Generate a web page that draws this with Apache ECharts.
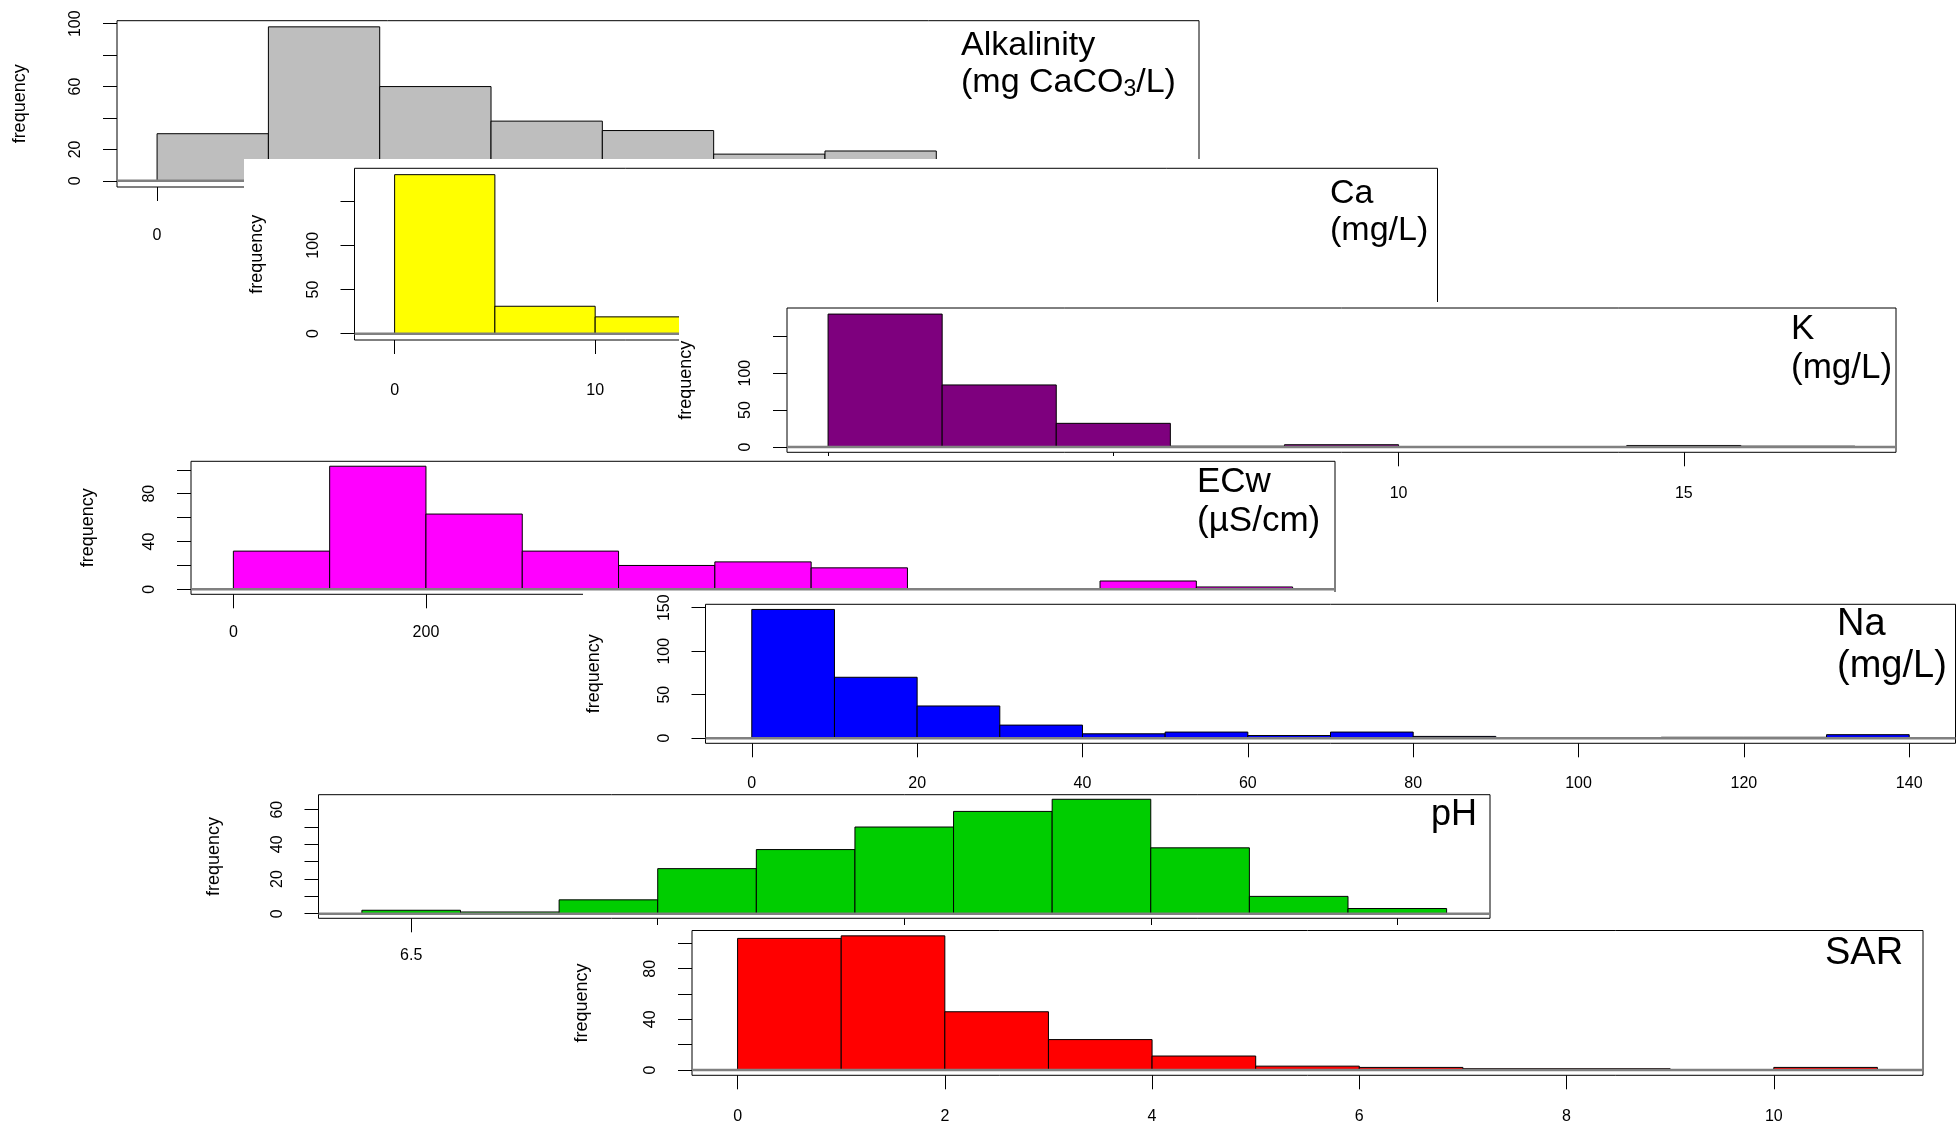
<!DOCTYPE html>
<html><head><meta charset="utf-8">
<script src="https://cdn.jsdelivr.net/npm/echarts@6/dist/echarts.min.js"></script>
<style>html,body{margin:0;padding:0;background:#fff}#c{width:1960px;height:1126px}</style>
</head><body><div id="c"></div>
<script>
// ---------------- data ----------------
const alkBreaks = [0,50,100,150,200,250,300,350,400,450];
const alkCounts = [30,98,60,38,32,17,19,4,2];
const alkXLim = [0,450], alkYLim = [0,98];
const alkXTicks = [0,100,200,300,400];
const alkYTicks = [0,20,40,60,80,100];
const alkYLabels = [0,20,60,100];

const caBreaks = [0,5,10,15,20,25,30,35,40,45,50];
const caCounts = [180,31,19,25,18,12,7,4,2,2];
const caXLim = [0,50], caYLim = [0,180];
const caXTicks = [0,10,20,30,40,50];
const caYTicks = [0,50,100,150];
const caYLabels = [0,50,100];

const kBreaks = [0,2,4,6,8,10,12,14,16,18];
const kCounts = [180,84,32,1,3,0,0,2,1];
const kXLim = [0,18], kYLim = [0,181];
const kXTicks = [0,5,10,15];
const kYTicks = [0,50,100,150];
const kYLabels = [0,50,100];

const ecwBreaks = [0,100,200,300,400,500,600,700,800,900,1000,1100];
const ecwCounts = [32,103,63,32,20,23,18,0,0,7,2];
const ecwXLim = [0,1100], ecwYLim = [0,103];
const ecwXTicks = [0,200,400,600,800,1000];
const ecwYTicks = [0,20,40,60,80,100];
const ecwYLabels = [0,40,80];

const naBreaks = [0,10,20,30,40,50,60,70,80,90,100,110,120,130,140];
const naCounts = [148,70,37,15,5,7,3,7,2,0,0,1,1,4];
const naXLim = [0,140], naYLim = [0,148];
const naXTicks = [0,20,40,60,80,100,120,140];
const naYTicks = [0,50,100,150];
const naYLabels = [0,50,100,150];

const phBreaks = [6.4,6.6,6.8,7.0,7.2,7.4,7.6,7.8,8.0,8.2,8.4,8.6];
const phCounts = [2,1,8,26,37,50,59,66,38,10,3];
const phXLim = [6.4,8.6], phYLim = [0,66];
const phXTicks = [6.5,7.0,7.5,8.0,8.5];
const phYTicks = [0,10,20,30,40,50,60];
const phYLabels = [0,20,40,60];

const sarBreaks = [0,1,2,3,4,5,6,7,8,9,10,11];
const sarCounts = [104,106,46,24,11,3,2,1,1,0,2];
const sarXLim = [0,11], sarYLim = [0,106];
const sarXTicks = [0,2,4,6,8,10];
const sarYTicks = [0,20,40,60,80,100];
const sarYLabels = [0,40,80];

// ---------------- layout ----------------
const FONT = '"Liberation Sans", Arial, sans-serif';
const panels = [
  {br:alkBreaks, ct:alkCounts, xl:alkXLim, yl:alkYLim, xt:alkXTicks, yt:alkYTicks, ylab:alkYLabels,
   color:'#BEBEBE', box:[117,20.7,1199,187], white:null, xm:41, fo:97,
   title:'Alkalinity\n(mg CaCO{sub|3}/L)', tpos:[961,27], tsize:34, dec:0},
  {br:caBreaks, ct:caCounts, xl:caXLim, yl:caYLim, xt:caXTicks, yt:caYTicks, ylab:caYLabels,
   color:'#FFFF00', box:[354.5,168.3,1437.5,340], white:[244,159], xm:43, fo:97,
   title:'Ca\n(mg/L)', tpos:[1330,175], tsize:34, dec:0},
  {br:kBreaks, ct:kCounts, xl:kXLim, yl:kYLim, xt:kXTicks, yt:kYTicks, ylab:kYLabels,
   color:'#7E007E', box:[787,308,1896,452.3], white:[679,302], xm:33, fo:101,
   title:'K\n(mg/L)', tpos:[1791,310], tsize:35, dec:0},
  {br:ecwBreaks, ct:ecwCounts, xl:ecwXLim, yl:ecwYLim, xt:ecwXTicks, yt:ecwYTicks, ylab:ecwYLabels,
   color:'#FF00FF', box:[191,461.3,1335,594.3], white:[0,456,1360], xm:30, fo:103,
   title:'ECw\n(\u00B5S/cm)', tpos:[1197,463], tsize:35, dec:0},
  {br:naBreaks, ct:naCounts, xl:naXLim, yl:naYLim, xt:naXTicks, yt:naYTicks, ylab:naYLabels,
   color:'#0000FF', box:[705.5,604.3,1955.5,743.3], white:[583,592], xm:32, fo:111,
   title:'Na\n(mg/L)', tpos:[1837,604], tsize:38, dec:0},
  {br:phBreaks, ct:phCounts, xl:phXLim, yl:phYLim, xt:phXTicks, yt:phYTicks, ylab:phYLabels,
   color:'#00CD00', box:[318.5,794.7,1490,918.3], white:[0,791], xm:29, fo:104,
   title:'pH', tpos:[1431,795], tsize:36, dec:1},
  {br:sarBreaks, ct:sarCounts, xl:sarXLim, yl:sarYLim, xt:sarXTicks, yt:sarYTicks, ylab:sarYLabels,
   color:'#FF0000', box:[692,930.5,1923,1075.3], white:[569,925], xm:33, fo:110,
   title:'SAR', tpos:[1825,933], tsize:38, dec:0}
];

function ext(lim){ const r = lim[1]-lim[0]; return [lim[0]-0.04*r, lim[1]+0.04*r]; }

const grids=[], xAxes=[], yAxes=[], series=[], graphics=[];
panels.forEach((p,i)=>{
  const zb = 10*i;
  const xe = ext(p.xl), ye = ext(p.yl);
  if (p.white) {
    const rw = (p.white[2]||1960) - p.white[0];
    graphics.push({type:'rect', z:zb, silent:true,
      shape:{x:p.white[0], y:p.white[1], width:rw, height:1126-p.white[1]},
      style:{fill:'#ffffff'}});
  }
  grids.push({left:p.box[0], top:p.box[1], width:p.box[2]-p.box[0], height:p.box[3]-p.box[1],
    show:true, borderColor:'#000', borderWidth:1, backgroundColor:'rgba(0,0,0,0)',
    containLabel:false, outerBoundsMode:'none', z:zb+1});
  xAxes.push({type:'value', gridIndex:i, position:'bottom', min:xe[0], max:xe[1], z:zb+4,
    axisLine:{show:false, onZero:false}, splitLine:{show:false},
    axisTick:{show:true, length:14, lineStyle:{color:'#000', width:1}, customValues:p.xt},
    axisLabel:{show:true, customValues:p.xt, margin:p.xm, fontSize:16, color:'#000', fontFamily:FONT,
      formatter:(v)=> p.dec ? Number(v).toFixed(p.dec) : String(Math.round(v))}});
  yAxes.push({type:'value', gridIndex:i, position:'left', min:ye[0], max:ye[1], z:zb+4,
    axisLine:{show:false, onZero:false}, splitLine:{show:false},
    axisTick:{show:true, length:14, lineStyle:{color:'#000', width:1}, customValues:p.yt},
    axisLabel:{show:true, customValues:p.ylab, rotate:90, margin:33, fontSize:16, color:'#000', fontFamily:FONT,
      formatter:(v)=> String(Math.round(v))}});
  series.push({type:'custom', xAxisIndex:i, yAxisIndex:i, z:zb+2, silent:true, clip:false,
    encode:{x:[0,1], y:2},
    data:p.ct.map((c,j)=>[p.br[j], p.br[j+1], c]),
    renderItem:(params, api)=>{
      const a = api.coord([api.value(0), api.value(2)]);
      const b = api.coord([api.value(1), 0]);
      return {type:'rect', shape:{x:a[0], y:a[1], width:b[0]-a[0], height:b[1]-a[1]},
        style:{fill:p.color, stroke:'#000', lineWidth:1}};
    }});
  series.push({type:'line', xAxisIndex:i, yAxisIndex:i, z:zb+3, silent:true, symbol:'none',
    data:[[xe[0],0],[xe[1],0]], lineStyle:{color:'#808080', width:2.5}});
  // y label "frequency"
  graphics.push({type:'text', z:zb+5, silent:true,
    x:p.box[0]-p.fo, y:(p.box[1]+p.box[3])/2, rotation:Math.PI/2,
    style:{text:'frequency', fontSize:18, fontFamily:FONT, fill:'#000',
      align:'center', verticalAlign:'middle', textAlign:'center', textVerticalAlign:'middle'}});
  // title
  graphics.push({type:'text', z:zb+5, silent:true, x:p.tpos[0], y:p.tpos[1],
    style:{text:p.title, fontSize:p.tsize, fontFamily:FONT, fill:'#000', lineHeight:Math.round(p.tsize*1.1),
      align:'left', verticalAlign:'top', textAlign:'left', textVerticalAlign:'top',
      rich:{sub:{fontSize:Math.round(p.tsize*0.68), fontFamily:FONT, fill:'#000', verticalAlign:'bottom', lineHeight:Math.round(p.tsize*0.8)}}}});
});

const chart = echarts.init(document.getElementById('c'), null, {renderer:'canvas'});
chart.setOption({
  backgroundColor:'#ffffff',
  animation:false,
  grid:grids, xAxis:xAxes, yAxis:yAxes, series:series,
  graphic:{elements:graphics}
});
</script></body></html>
